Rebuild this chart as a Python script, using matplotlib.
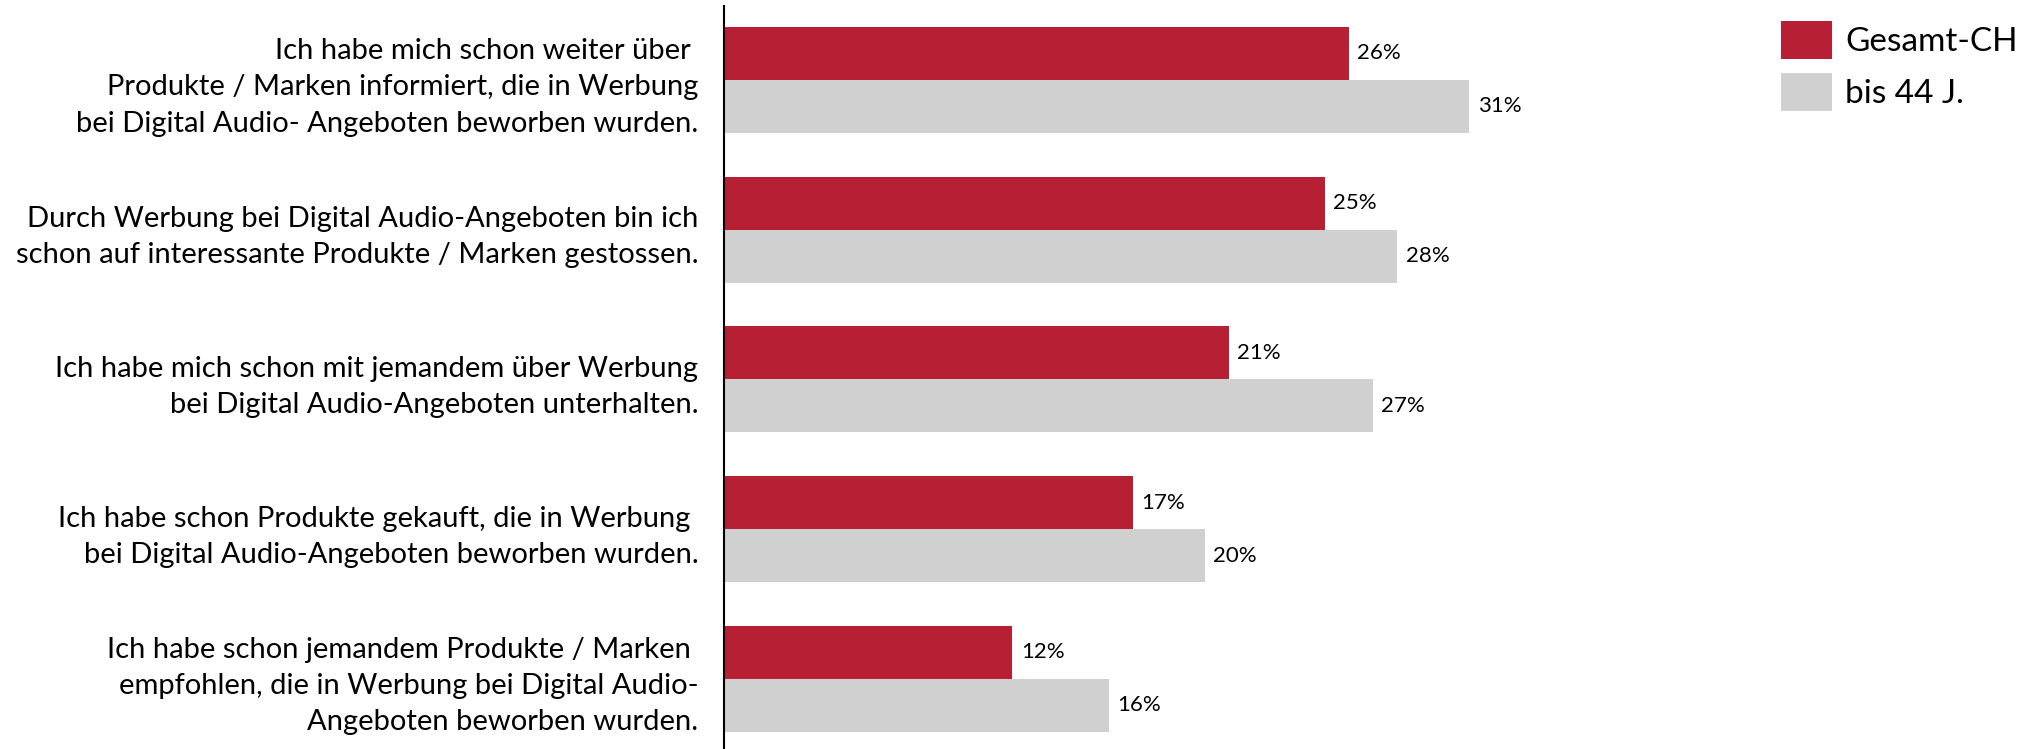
import matplotlib.pyplot as plt
import numpy as np

plt.rcParams['font.family'] = ['Lato', 'DejaVu Sans']

labels = [
    "Ich habe mich schon weiter über \nProdukte / Marken informiert, die in Werbung\nbei Digital Audio- Angeboten beworben wurden.",
    "Durch Werbung bei Digital Audio-Angeboten bin ich\nschon auf interessante Produkte / Marken gestossen.",
    "Ich habe mich schon mit jemandem über Werbung\nbei Digital Audio-Angeboten unterhalten.",
    "Ich habe schon Produkte gekauft, die in Werbung \nbei Digital Audio-Angeboten beworben wurden.",
    "Ich habe schon jemandem Produkte / Marken \nempfohlen, die in Werbung bei Digital Audio-\nAngeboten beworben wurden.",
]
gesamt = [26, 25, 21, 17, 12]
bis44 = [31, 28, 27, 20, 16]
series_names = ["Gesamt-CH", "bis 44 J."]

red = '#B71F35'
grey = '#D0D0D0'

fig = plt.figure(figsize=(20.24, 7.49), dpi=100)
ax = fig.add_axes([724 / 2024, 0, (1700 - 724) / 2024, 1 - 6 / 749])

y = np.arange(len(labels))
h = 0.354
b1 = ax.barh(y - h / 2, gesamt, height=h, color=red, label=series_names[0])
b2 = ax.barh(y + h / 2, bis44, height=h, color=grey, label=series_names[1])

for bars, vals in [(b1, gesamt), (b2, bis44)]:
    for rect, v in zip(bars, vals):
        ax.text(v + 0.35, rect.get_y() + rect.get_height() / 2, f"{v}%",
                va='center', ha='left', fontsize=16)

ax.set_xlim(0, 40.6)
ax.set_ylim(4.469, -0.494)
ax.set_yticks(y)
ax.set_yticklabels(labels, fontsize=21, linespacing=1.48)
ax.tick_params(axis='y', length=0, pad=18.5)
ax.set_xticks([])
for s in ['top', 'right', 'bottom']:
    ax.spines[s].set_visible(False)
ax.spines['left'].set_linewidth(1.5)

fig.legend(loc='upper left', bbox_to_anchor=(1781 / 2024, 1 - 21 / 749),
           frameon=False, fontsize=24, handlelength=1.53, handleheight=1.38,
           labelspacing=0.42, handletextpad=0.4, borderpad=0, borderaxespad=0)

fig.savefig('out.png', dpi=100)
